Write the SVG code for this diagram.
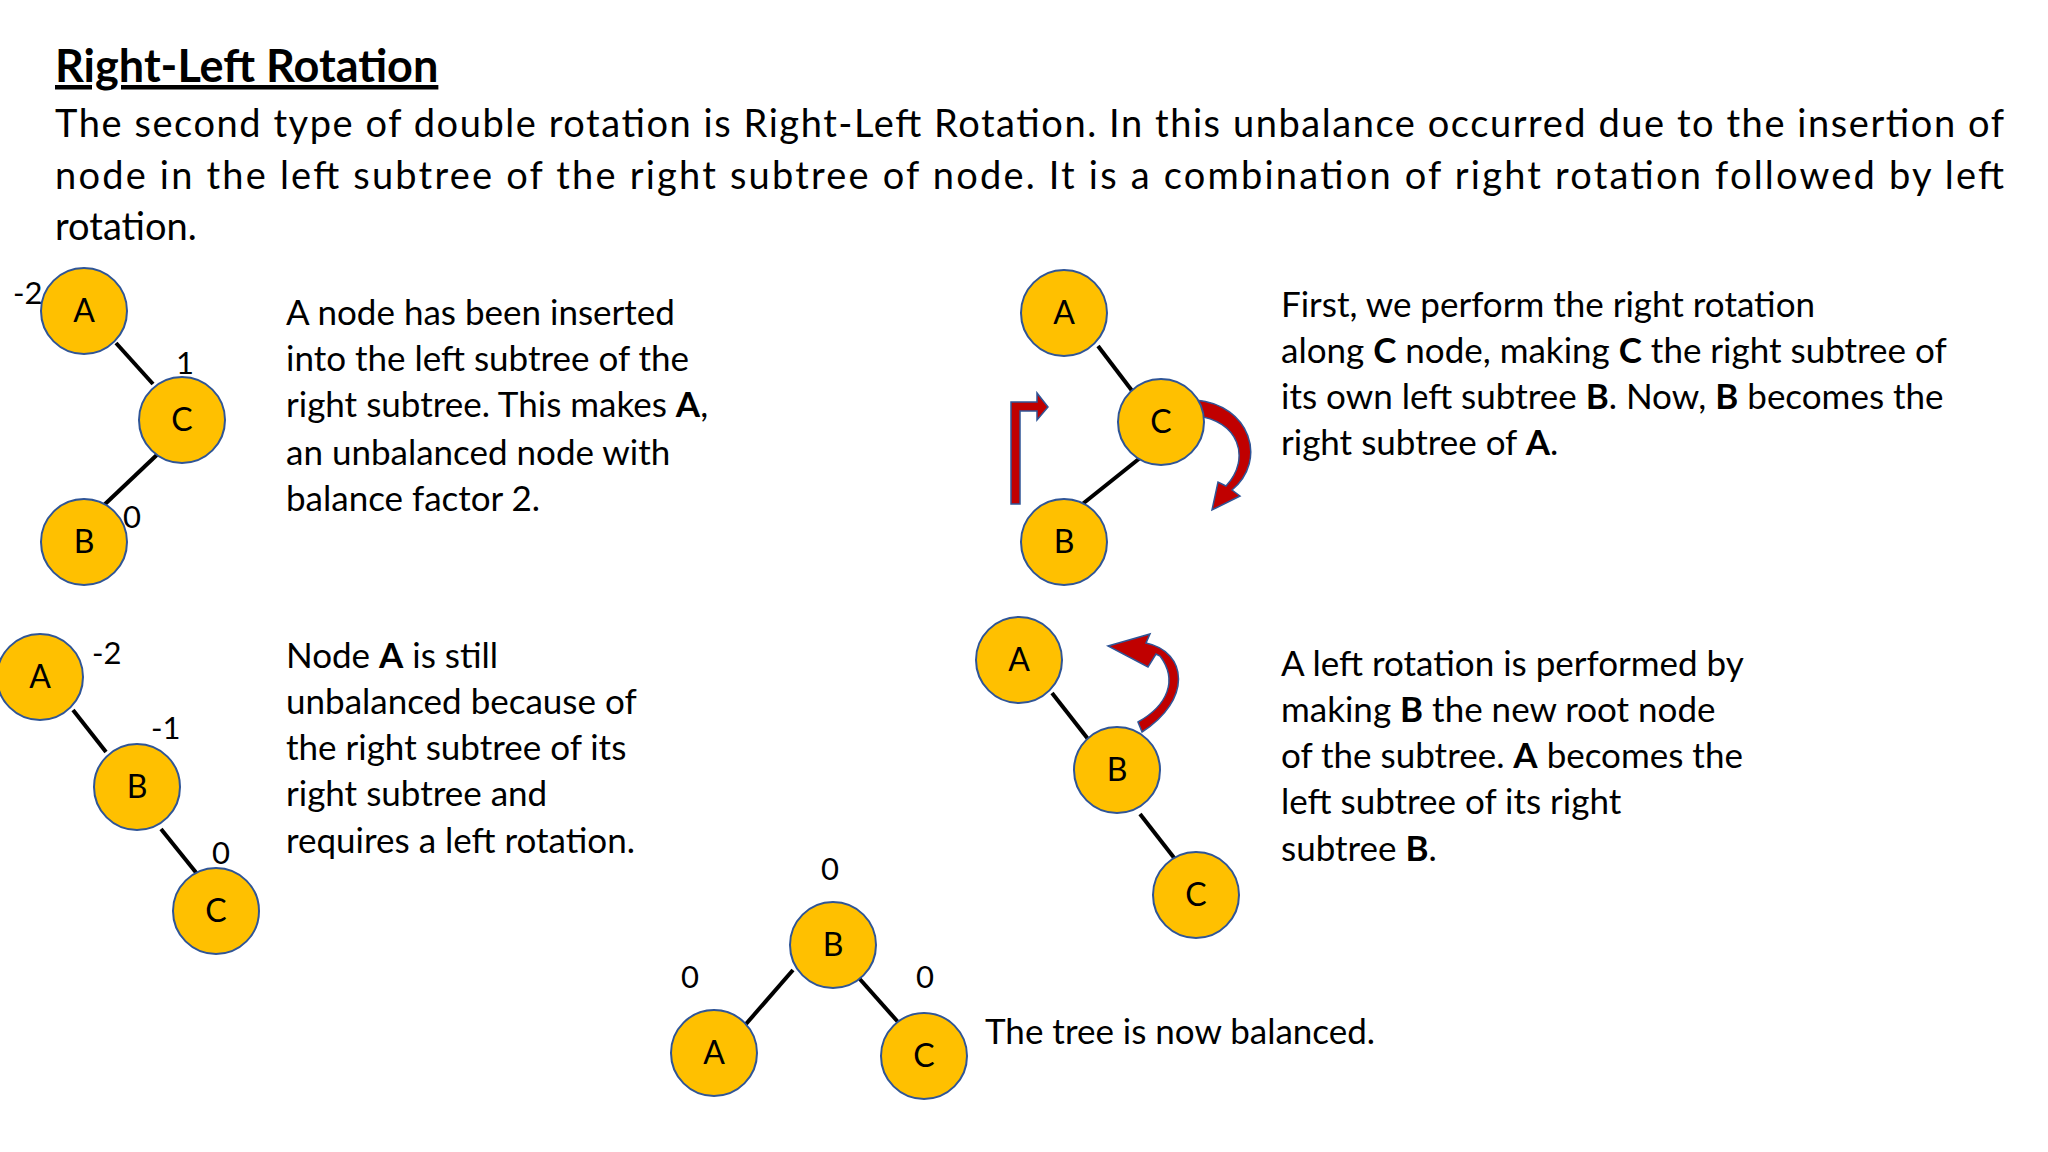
<svg xmlns="http://www.w3.org/2000/svg" width="2048" height="1152" viewBox="0 0 2048 1152">
<style>
text{font-family:Lato,"Open Sans","Liberation Sans",sans-serif;fill:#000}
.t{font-size:45px;font-weight:bold;text-decoration:underline}
.p{font-size:38px}
.d{font-size:35px}
.n{font-size:32px;text-anchor:middle}
.bf{font-size:31px}
circle{fill:#FFC000;stroke:#2F5597;stroke-width:2}
line{stroke:#000;stroke-width:4}
.ar{fill:#C00000;stroke:#2F5597;stroke-width:1.5}
b,.b{font-weight:bold}
</style>
<rect width="2048" height="1152" fill="#fff"/>
<text class="t" x="55" y="82">Right-Left Rotation</text>
<text class="p" x="55" y="137" textLength="1949" lengthAdjust="spacing">The second type of double rotation is Right-Left Rotation. In this unbalance occurred due to the insertion of</text>
<text class="p" x="55" y="189" textLength="1949" lengthAdjust="spacing">node in the left subtree of the right subtree of node. It is a combination of right rotation followed by left</text>
<text class="p" x="55" y="240">rotation.</text>
<g id="connectors">
<line x1="116" y1="343" x2="153" y2="384"/>
<line x1="161" y1="451" x2="103" y2="506"/>
<line x1="1098" y1="346" x2="1133" y2="392"/>
<line x1="1140" y1="458" x2="1080" y2="506"/>
<line x1="73" y1="710" x2="106" y2="752"/>
<line x1="161" y1="829" x2="198" y2="875"/>
<line x1="1052" y1="693" x2="1088" y2="739"/>
<line x1="1140" y1="814" x2="1175" y2="859"/>
<line x1="793" y1="970" x2="746" y2="1024"/>
<line x1="858" y1="977" x2="898" y2="1022"/>
<path class="ar" d="M1011,504 L1011,402 L1037,402 L1037,393 L1048,407 L1037,420 L1037,411 L1020,411 L1020,504 Z"/>
<path class="ar" d="M1196,400 C1250,405 1268,460 1232,490 L1240,496 L1212,510 L1218,482 L1226,486 C1252,458 1238,420 1196,416 Z"/>
<path class="ar" d="M1138,722 C1168,705 1178,680 1160,656 L1156,654 L1148,667 L1108,646 L1150,634 L1146,643 C1188,652 1192,700 1142,732 Z"/>
</g>
<g id="tree1">
<g id="t1A"><circle cx="84" cy="311" r="43"/><text class="n" x="84" y="322">A</text></g>
<g id="t1C"><circle cx="182" cy="420" r="43"/><text class="n" x="182" y="431">C</text></g>
<g id="t1B"><circle cx="84" cy="542" r="43"/><text class="n" x="84" y="553">B</text></g>
<text class="bf" x="13" y="304">-2</text>
<text class="bf" x="176" y="374">1</text>
<text class="bf" x="123" y="528">0</text>
</g>
<text class="d" x="286" y="325">A node has been inserted</text>
<text class="d" x="286" y="371">into the left subtree of the</text>
<text class="d" x="286" y="417">right subtree. This makes <tspan class="b">A</tspan>,</text>
<text class="d" x="286" y="465">an unbalanced node with</text>
<text class="d" x="286" y="511">balance factor 2.</text>
<g id="tree2">
<g id="t2A"><circle cx="1064" cy="313" r="43"/><text class="n" x="1064" y="324">A</text></g>
<g id="t2C"><circle cx="1161" cy="422" r="43"/><text class="n" x="1161" y="433">C</text></g>
<g id="t2B"><circle cx="1064" cy="542" r="43"/><text class="n" x="1064" y="553">B</text></g>
</g>
<text class="d" x="1281" y="317">First, we perform the right rotation</text>
<text class="d" x="1281" y="363">along <tspan class="b">C</tspan> node, making <tspan class="b">C</tspan> the right subtree of</text>
<text class="d" x="1281" y="409">its own left subtree <tspan class="b">B</tspan>. Now, <tspan class="b">B</tspan> becomes the</text>
<text class="d" x="1281" y="455">right subtree of <tspan class="b">A</tspan>.</text>
<g id="tree3">
<g id="t3A"><circle cx="40" cy="677" r="43"/><text class="n" x="40" y="688">A</text></g>
<g id="t3B"><circle cx="137" cy="787" r="43"/><text class="n" x="137" y="798">B</text></g>
<g id="t3C"><circle cx="216" cy="911" r="43"/><text class="n" x="216" y="922">C</text></g>
<text class="bf" x="92" y="664">-2</text>
<text class="bf" x="151" y="739">-1</text>
<text class="bf" x="212" y="864">0</text>
</g>
<text class="d" x="286" y="668">Node <tspan class="b">A</tspan> is still</text>
<text class="d" x="286" y="714">unbalanced because of</text>
<text class="d" x="286" y="760">the right subtree of its</text>
<text class="d" x="286" y="806">right subtree and</text>
<text class="d" x="286" y="853">requires a left rotation.</text>
<g id="tree4">
<g id="t4A"><circle cx="1019" cy="660" r="43"/><text class="n" x="1019" y="671">A</text></g>
<g id="t4B"><circle cx="1117" cy="770" r="43"/><text class="n" x="1117" y="781">B</text></g>
<g id="t4C"><circle cx="1196" cy="895" r="43"/><text class="n" x="1196" y="906">C</text></g>
</g>
<text class="d" x="1281" y="676">A left rotation is performed by</text>
<text class="d" x="1281" y="722">making <tspan class="b">B</tspan> the new root node</text>
<text class="d" x="1281" y="768">of the subtree. <tspan class="b">A</tspan> becomes the</text>
<text class="d" x="1281" y="814">left subtree of its right</text>
<text class="d" x="1281" y="861">subtree <tspan class="b">B</tspan>.</text>
<g id="tree5">
<g id="t5B"><circle cx="833" cy="945" r="43"/><text class="n" x="833" y="956">B</text></g>
<g id="t5A"><circle cx="714" cy="1053" r="43"/><text class="n" x="714" y="1064">A</text></g>
<g id="t5C"><circle cx="924" cy="1056" r="43"/><text class="n" x="924" y="1067">C</text></g>
<text class="bf" x="821" y="880">0</text>
<text class="bf" x="681" y="988">0</text>
<text class="bf" x="916" y="988">0</text>
</g>
<text class="d" x="985" y="1044">The tree is now balanced.</text>
</svg>
